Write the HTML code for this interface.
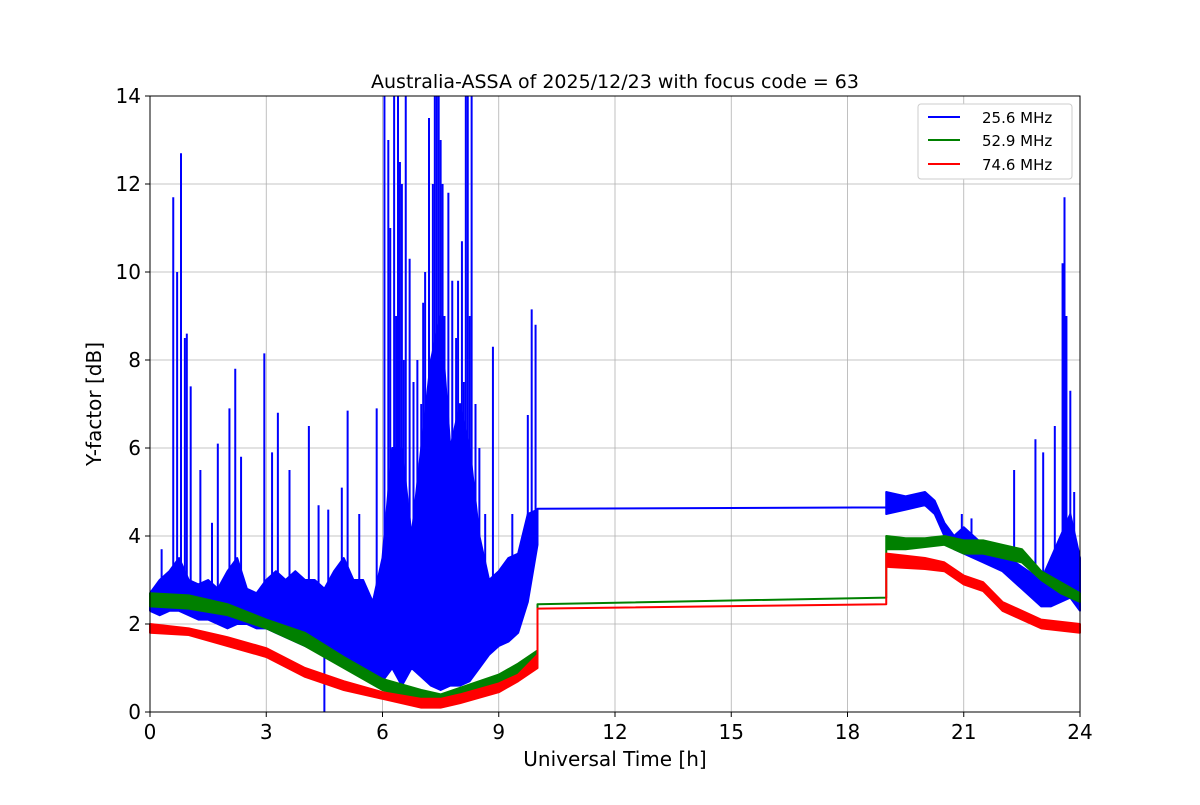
<!DOCTYPE html>
<html><head><meta charset="utf-8"><style>
body{margin:0;background:#fff;font-family:"Liberation Sans","DejaVu Sans",sans-serif}
svg text{font-family:"DejaVu Sans","Liberation Sans",sans-serif}
</style></head><body>
<svg id="chart" width="1200" height="800" xmlns="http://www.w3.org/2000/svg">
<rect width="1200" height="800" fill="#fff"/>
<g id="grid"></g>
<g id="series"></g>
<rect x="150" y="96" width="930" height="616" fill="none" stroke="#000" stroke-width="1"/>
<g id="axes"></g>
<text x="615" y="88" text-anchor="middle" font-size="19">Australia-ASSA of 2025/12/23 with focus code = 63</text>
<text x="615" y="766" text-anchor="middle" font-size="20">Universal Time [h]</text>
<text x="101" y="404" text-anchor="middle" font-size="20" transform="rotate(-90 101 404)">Y-factor [dB]</text>
<g>
<rect x="918" y="104" width="154" height="75" rx="3" fill="#fff" stroke="#ccc"/>
<g><line x1="928" y1="117" x2="960" y2="117" stroke="blue" stroke-width="2"/><text x="982" y="123" font-size="15">25.6 MHz</text></g>
<g><line x1="928" y1="140" x2="960" y2="140" stroke="green" stroke-width="2"/><text x="982" y="146" font-size="15">52.9 MHz</text></g>
<g><line x1="928" y1="164" x2="960" y2="164" stroke="red" stroke-width="2"/><text x="982" y="170" font-size="15">74.6 MHz</text></g>
</g>
</svg>
<script>
const xTicks=[0,3,6,9,12,15,18,21,24];
const yTicks=[0,2,4,6,8,10,12,14];
const blueT=[0,0.25,0.5,0.75,1,1.25,1.5,1.75,2,2.25,2.5,2.75,3,3.25,3.5,3.75,4,4.25,4.5,4.75,5,5.25,5.5,5.75,6,6.25,6.5,6.75,7,7.25,7.5,7.75,8,8.25,8.5,8.75,9,9.25,9.5,9.75,10,10,19,19,19.5,20,20.25,20.5,20.75,21,21.5,22,22.5,23,23.25,23.5,23.75,24];
const blueLo=[2.3,2.2,2.3,2.3,2.2,2.1,2.1,2.0,1.9,2.0,2.0,1.9,1.9,1.8,1.7,1.6,1.5,1.4,1.3,1.3,1.2,1.1,1.0,0.9,0.7,1.0,0.6,1.0,0.8,0.6,0.5,0.6,0.6,0.7,1.0,1.3,1.5,1.6,1.8,2.5,3.8,4.62,4.65,4.5,4.6,4.7,4.5,4.0,3.7,3.6,3.4,3.2,2.8,2.4,2.4,2.5,2.6,2.3];
const blueHi=[2.7,3.0,3.2,3.5,3.0,2.9,3.0,2.8,3.2,3.5,2.8,2.7,3.0,3.2,3.0,3.2,3.0,3.0,2.8,3.2,3.5,3.0,3.0,2.5,3.5,6,6,4,6,8,9,6,7,6,4,3,3.2,3.5,3.6,4.5,4.6,4.62,4.65,5.0,4.9,5.0,4.8,4.3,4.0,4.2,3.8,3.6,3.3,3.0,3.5,4,4.5,3.5];
const spikeT=[0.3,0.6,0.7,0.8,0.9,0.95,1.05,1.3,1.6,1.75,2.05,2.2,2.35,2.95,3.15,3.3,3.6,4.1,4.35,4.5,4.6,4.95,5.1,5.4,5.85,6.05,6.15,6.3,6.4,6.5,6.6,6.7,6.9,7.05,7.2,7.35,7.45,7.55,7.7,7.8,7.95,8.05,8.15,8.3,8.5,8.65,8.85,9.35,9.75,9.85,9.95,20.95,21.2,22.3,22.85,23.05,23.35,23.55,23.6,23.65,23.75,23.85,6.2,6.35,6.45,6.55,6.8,7.0,7.1,7.3,7.4,7.5,7.6,7.9,8.1,8.2,8.25,8.4];
const spikeV=[3.7,11.7,10,12.7,8.5,8.6,7.4,5.5,4.3,6.1,6.9,7.8,5.8,8.15,5.9,6.8,5.5,6.5,4.7,0,4.6,5.1,6.85,4.5,6.9,14,13,14,14,12,14,10.3,8,9.3,13.5,14,14,12,11.8,9.8,9.8,10.7,14,14,6,4.5,8.3,4.5,6.75,9.15,8.8,4.5,4.4,5.5,6.2,5.9,6.5,10.2,11.7,9.0,7.3,5.0,11,9,12.5,8,7.5,7,10,12,14,13,9,8.5,7.5,14,9,7];
const greenT=[0,1,2,3,4,5,6,7,7.5,8,9,9.5,10,10,19,19,19.5,20,20.5,21,21.5,22,22.5,23,23.5,24];
const greenLo=[2.4,2.35,2.2,1.9,1.5,1.0,0.5,0.25,0.2,0.3,0.6,0.9,1.2,2.45,2.6,3.7,3.7,3.75,3.8,3.6,3.6,3.5,3.4,3.0,2.7,2.5];
const greenHi=[2.7,2.65,2.45,2.1,1.8,1.25,0.75,0.5,0.4,0.55,0.85,1.1,1.4,2.45,2.6,4.0,3.95,3.95,4.0,3.9,3.9,3.8,3.7,3.2,2.95,2.7];
const redT=[0,1,2,3,4,5,6,7,7.5,8,9,9.5,10,10,19,19,20,20.5,21,21.5,22,22.5,23,24];
const redLo=[1.8,1.75,1.5,1.25,0.8,0.5,0.3,0.1,0.1,0.2,0.45,0.7,1.0,2.35,2.45,3.3,3.25,3.2,2.9,2.75,2.3,2.1,1.9,1.8];
const redHi=[2.0,1.9,1.7,1.45,1.0,0.7,0.45,0.3,0.3,0.4,0.65,0.85,1.3,2.35,2.45,3.6,3.5,3.4,3.1,2.95,2.5,2.3,2.1,2.0];

const X=t=>150+t/24*930, Y=v=>712-v/14*616;
const NS="http://www.w3.org/2000/svg";
function mk(tag,attrs,parent){const e=document.createElementNS(NS,tag);for(const k in attrs)e.setAttribute(k,attrs[k]);parent.appendChild(e);return e;}
const grid=document.getElementById('grid'),axes=document.getElementById('axes'),ser=document.getElementById('series');
xTicks.forEach(t=>{
 const g=mk('line',{x1:X(t),x2:X(t),y1:96,y2:712,stroke:'#b0b0b0','stroke-width':0.8},grid);
 
 
 mk('line',{x1:X(t),x2:X(t),y1:712,y2:717,stroke:'#000'},axes);
 const l=mk('text',{x:X(t),y:739,'text-anchor':'middle','font-size':20},axes);l.textContent=t;
 
 
});
yTicks.forEach(v=>{
 const g=mk('line',{x1:150,x2:1080,y1:Y(v),y2:Y(v),stroke:'#b0b0b0','stroke-width':0.8},grid);
 
 
 mk('line',{x1:145,x2:150,y1:Y(v),y2:Y(v),stroke:'#000'},axes);
 const l=mk('text',{x:141,y:Y(v)+7,'text-anchor':'end','font-size':20},axes);l.textContent=v;
 
 
});
function band(T,lo,hi,color,name){
 let pts=T.map((t,i)=>X(t)+','+Y(Math.min(hi[i],14))).concat(T.map((t,i)=>X(t)+','+Y(lo[i])).reverse());
 const p=mk('polygon',{points:pts.join(' '),fill:color,stroke:color,'stroke-width':2,'stroke-linejoin':'round'},ser);
 
 
}
function interp(T,A,t){for(let i=0;i<T.length-1;i++){if(t>=T[i]&&t<=T[i+1]){const f=T[i+1]===T[i]?0:(t-T[i])/(T[i+1]-T[i]);return A[i]+f*(A[i+1]-A[i]);}}return A[A.length-1];}
band(blueT,blueLo,blueHi,'blue','series-25-6-mhz');
spikeT.forEach((t,i)=>{
 const base=(interp(blueT,blueLo,t)+interp(blueT,blueHi,t))/2;
 const s=mk('line',{x1:X(t),x2:X(t),y1:Y(base),y2:Y(Math.min(spikeV[i],14)),stroke:'blue','stroke-width':2},ser);
 
 
});
band(greenT,greenLo,greenHi,'green','series-52-9-mhz');
band(redT,redLo,redHi,'red','series-74-6-mhz');
</script>
</body></html>
